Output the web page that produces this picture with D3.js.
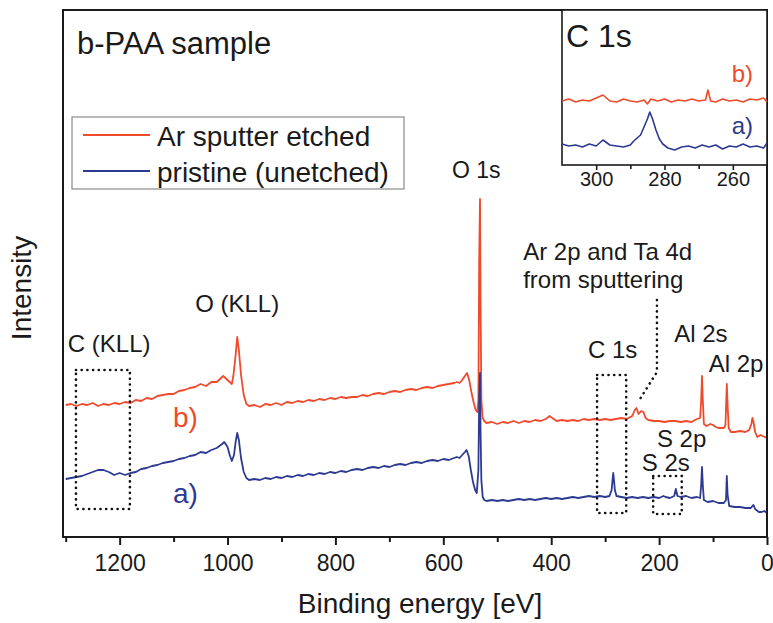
<!DOCTYPE html>
<html>
<head>
<meta charset="utf-8">
<script src="https://cdn.jsdelivr.net/npm/d3@7"></script>
<style>
  body { margin: 0; background: #fff; }
  svg { display: block; font-family: "Liberation Sans", Arial, sans-serif; }
  text { fill: #1a1a1a; }
</style>
</head>
<body>
<div id="chart"></div>
<script>
// ---- data (binding energy in eV, intensity in arbitrary units) ----
const seriesNames = ["Ar sputter etched", "pristine (unetched)"];
const seriesTags = ["b)", "a)"];
const energyTicks = [1200, 1000, 800, 600, 400, 200, 0];
const energyMinor = [1300, 1100, 900, 700, 500, 300, 100];
const insetTicks = [300, 280, 260];
const insetMinor = [290, 270];

// b) Ar sputter etched survey
const etched = [
  [1300,135],[1290,136],[1280,134],[1270,136],[1260,135],[1250,137],[1240,134],[1230,136],
  [1220,135],[1210,137],[1200,136],[1190,138],[1180,137],[1170,140],[1160,139],[1150,142],
  [1140,141],[1130,144],[1120,145],[1110,146],[1100,146],[1090,149],[1080,150],[1070,152],
  [1060,153],[1050,156],[1040,154],[1030,158],[1020,158],[1012,162],[1008,164],[1002,161],
  [996,158],[992,156],[989,165],[985,185],[982,203],[979,190],[975,165],[970,145],[965,136],
  [960,134],[950,135],[940,133],[930,136],[920,135],[910,137],[900,135],[890,138],[880,137],
  [870,139],[860,138],[850,140],[840,139],[830,141],[820,140],[810,142],[800,141],[790,143],
  [780,142],[770,143],[760,143],[750,145],[740,144],[730,146],[720,147],[710,146],[700,148],
  [690,149],[680,148],[670,150],[660,151],[650,150],[640,152],[630,153],[620,152],[610,154],
  [600,155],[590,156],[580,157],[575,158],[570,157],[565,160],[560,164],[556,167],[552,160],
  [548,148],[544,138],[540,130],[537,128],[535,140],[533.5,280],[532,341],[531,240],[529.5,140],
  [527,122],[524,119],[520,117],[510,118],[500,116],[490,118],[480,117],[470,119],[460,117],
  [450,119],[440,118],[430,120],[420,119],[410,121],[403,124],[398,122],[390,119],[380,120],
  [370,119],[360,120],[350,119],[340,121],[330,120],[320,121],[310,120],[300,121],[290,120],
  [280,121],[270,122],[260,121],[250,124],[245,130],[242,132],[238,126],[233,129],[229,128],
  [225,122],[220,120],[210,119],[200,119],[190,118],[180,119],[170,119],[160,118],[150,119],
  [140,118],[130,121],[124,122],[122,140],[120.5,164],[119,140],[117,116],[112,114],[105,116],
  [100,115],[95,113],[90,112],[85,112],[80,112],[77,115],[75.5,140],[74.5,156],[73,135],
  [71,112],[67,108],[60,108],[50,109],[40,108],[33,110],[29,116],[27,122],[25,118],[22,108],
  [18,103],[12,105],[8,104],[4,103],[0,102]
];

// a) pristine (unetched) survey
const pristine = [
  [1300,61],[1290,62],[1280,63],[1270,64],[1260,66],[1250,68],[1240,70],[1230,70],[1220,68],
  [1210,65],[1200,67],[1190,65],[1180,67],[1170,68],[1160,71],[1150,72],[1140,74],[1130,75],
  [1120,77],[1110,78],[1100,79],[1090,81],[1080,82],[1070,84],[1060,85],[1050,88],[1040,87],
  [1030,90],[1020,92],[1010,96],[1006,98],[1000,93],[996,85],[992,79],[988,85],[985,98],
  [982,107],[979,100],[975,82],[970,68],[965,62],[960,60],[950,61],[940,60],[930,62],[920,61],
  [910,63],[900,62],[890,64],[880,63],[870,65],[860,64],[850,66],[840,65],[830,67],[820,66],
  [810,68],[800,67],[790,69],[780,68],[770,70],[760,71],[750,70],[740,72],[730,73],[720,72],
  [710,74],[700,73],[690,75],[680,76],[670,75],[660,77],[650,78],[640,77],[630,79],[620,80],
  [610,79],[600,81],[590,80],[580,82],[575,83],[570,82],[565,85],[560,88],[557,90],[553,84],
  [549,70],[545,58],[541,50],[538,47],[535,70],[533.5,140],[532,167],[531,110],[529.5,60],
  [527,43],[524,40],[520,39],[510,40],[500,39],[490,40],[480,39],[470,40],[460,41],[450,40],
  [440,41],[430,40],[420,41],[410,42],[400,41],[390,42],[380,41],[370,42],[360,43],[350,42],
  [340,43],[330,44],[320,43],[310,44],[300,43],[292,44],[288,50],[286,62],[285,67],[284,62],
  [282,50],[279,44],[270,43],[260,42],[250,43],[240,42],[230,43],[220,42],[210,43],[200,42],
  [192,44],[188,43],[180,42],[172,44],[169,51],[166,44],[160,43],[150,44],[140,42],[130,43],
  [124,42],[122,55],[120.5,73],[119,55],[117,40],[110,38],[100,39],[90,37],[80,37],[76,40],
  [74.5,64],[73,45],[70,34],[60,33],[50,33],[40,32],[30,32],[27,34],[25,35],[22,31],[15,28],
  [10,28],[5,29],[0,27]
];

// C 1s detail (inset)
const insetEtched = [
  [310,64],[308,66],[306,63],[304,65],[302,64],[300,67],[298,70],[296,64],[294,63],[292,66],
  [290,64],[288,63],[286,65],[285,61],[284,66],[282,64],[280,66],[278,63],[276,65],[274,64],
  [272,66],[270,64],[268,65],[267.3,75],[266.5,64],[265,63],[263,66],[261,64],[259,65],
  [257,63],[255,66],[253,65],[251,67],[250,63]
];
const insetPristine = [
  [310,21],[308,19],[306,20],[304,18],[302,21],[300,19],[298,25],[296,20],[294,19],[292,18],
  [290,20],[289,24],[288,27],[287,30],[286,38],[285,46],[284.3,53],[283.5,46],[282.5,35],
  [281.5,26],[280.5,21],[279,17],[277,15],[275,18],[273,19],[271,17],[269,20],[267,18],
  [265,20],[263,16],[261,19],[259,18],[257,21],[255,18],[253,19],[251,17],[250,22]
];

const colors = ["#ef4a2c", "#2d3a92"];

function drawSurvey(rootdom) {
  const width = 773, height = 623;
  const frame = {left: 63, top: 10, right: 767, bottom: 537};

  const svg = d3.select(rootdom).append("svg")
    .attr("width", width)
    .attr("height", height);

  const x = d3.scaleLinear().domain([1305, 0]).range([frame.left, frame.right]);
  const y = d3.scaleLinear().domain([0, 530]).range([540, 10]);

  const line = d3.line()
    .x(d => x(d[0]))
    .y(d => y(d[1]));

  // spectra
  [etched, pristine].forEach((s, i) => {
    svg.append("path")
      .datum(s)
      .attr("fill", "none")
      .attr("stroke", colors[i])
      .attr("stroke-width", 1.8)
      .attr("stroke-linejoin", "round")
      .attr("d", line);
  });

  // dotted boxes marking regions (eV range, intensity range)
  const boxes = [[1281, 1181, 31, 170], [315, 261, 27, 165], [211, 158, 26, 64]];
  svg.selectAll(".dotbox")
    .data(boxes)
    .enter().append("rect")
    .attr("class", "dotbox")
    .attr("x", d => x(d[0]))
    .attr("y", d => y(d[3]))
    .attr("width", d => x(d[1]) - x(d[0]))
    .attr("height", d => y(d[2]) - y(d[3]))
    .attr("fill", "none")
    .attr("stroke", "#111")
    .attr("stroke-width", 2.6)
    .attr("stroke-linecap", "round")
    .attr("stroke-dasharray", "0.1 5.6");

  // pointer to Ar 2p / Ta 4d
  svg.append("path")
    .datum([[204, 240], [204, 168], [239, 138]])
    .attr("fill", "none")
    .attr("stroke", "#111")
    .attr("stroke-width", 2.6)
    .attr("stroke-linecap", "round")
    .attr("stroke-dasharray", "0.1 5.6")
    .attr("d", line);

  // frame
  svg.append("rect")
    .attr("x", frame.left).attr("y", frame.top)
    .attr("width", frame.right - frame.left)
    .attr("height", frame.bottom - frame.top)
    .attr("fill", "none")
    .attr("stroke", "#1a1a1a")
    .attr("stroke-width", 2);

  // x axis
  const xAxis = d3.axisBottom(x).tickValues(energyTicks).tickSize(8).tickPadding(10)
    .tickFormat(d3.format("d"));
  const gx = svg.append("g")
    .attr("transform", "translate(0," + frame.bottom + ")")
    .call(xAxis);
  gx.select(".domain").remove();
  gx.selectAll("line").attr("stroke", "#1a1a1a").attr("stroke-width", 2);
  gx.selectAll("text").attr("font-size", 23).attr("fill", "#1a1a1a")
    .attr("font-family", "Liberation Sans, Arial, sans-serif");

  const gxm = svg.append("g")
    .attr("transform", "translate(0," + frame.bottom + ")")
    .call(d3.axisBottom(x).tickValues(energyMinor).tickSize(5).tickFormat(""));
  gxm.select(".domain").remove();
  gxm.selectAll("line").attr("stroke", "#1a1a1a").attr("stroke-width", 2);

  svg.append("text")
    .attr("x", 420).attr("y", 613)
    .attr("text-anchor", "middle")
    .attr("font-size", 28)
    .text("Binding energy [eV]");

  svg.append("text")
    .attr("transform", "translate(31," + 288 + ") rotate(-90)")
    .attr("text-anchor", "middle")
    .attr("font-size", 28)
    .text("Intensity");

  svg.append("text")
    .attr("x", 77).attr("y", 54)
    .attr("font-size", 31)
    .text("b-PAA sample");

  // peak labels
  const labels = [
    ["O 1s", 584, 362, 23], ["O (KLL)", 1060, 228, 24], ["C (KLL)", 1296, 188, 24],
    ["C 1s", 332, 182, 24], ["Ar 2p and Ta 4d", 452, 280, 24], ["from sputtering", 452, 252, 24],
    ["Al 2s", 172, 198, 24], ["Al 2p", 108, 168, 24], ["S 2p", 204, 93, 24], ["S 2s", 232, 69, 24]
  ];
  svg.selectAll(".peak")
    .data(labels)
    .enter().append("text")
    .attr("class", "peak")
    .attr("x", d => x(d[1]))
    .attr("y", d => y(d[2]))
    .attr("font-size", d => d[3])
    .text(d => d[0]);

  // series tags
  [[1101, 113], [1101, 37]].forEach((p, i) => {
    svg.append("text")
      .attr("x", x(p[0])).attr("y", y(p[1]))
      .attr("font-size", 28)
      .style("fill", colors[i])
      .text(seriesTags[i]);
  });

  // legend
  const legend = svg.append("g").attr("transform", "translate(72,117)");
  legend.append("rect")
    .attr("width", 332).attr("height", 72)
    .attr("fill", "#fff")
    .attr("stroke", "#8a8a8a")
    .attr("stroke-width", 1.2);
  seriesNames.forEach((name, i) => {
    const g = legend.append("g").attr("transform", "translate(0," + (18 + i * 36) + ")");
    g.append("line")
      .attr("x1", 11).attr("x2", 78)
      .attr("stroke", colors[i])
      .attr("stroke-width", 2);
    g.append("text")
      .attr("x", 85).attr("y", 11)
      .attr("font-size", 28)
      .text(name);
  });

  // ---- inset: C 1s ----
  const inset = {left: 562, top: 10, right: 767, bottom: 165};
  const ix = d3.scaleLinear().domain([310, 250]).range([inset.left, inset.right]);
  const iy = d3.scaleLinear().domain([0, 155]).range([inset.bottom, inset.top]);

  svg.append("rect")
    .attr("x", inset.left).attr("y", inset.top)
    .attr("width", inset.right - inset.left)
    .attr("height", inset.bottom - inset.top)
    .attr("fill", "#fff")
    .attr("stroke", "#1a1a1a")
    .attr("stroke-width", 1.6);

  const iline = d3.line()
    .x(d => ix(d[0]))
    .y(d => iy(d[1]));

  [insetEtched, insetPristine].forEach((s, i) => {
    svg.append("path")
      .datum(s)
      .attr("fill", "none")
      .attr("stroke", colors[i])
      .attr("stroke-width", 1.6)
      .attr("stroke-linejoin", "round")
      .attr("d", iline);
  });

  const gi = svg.append("g")
    .attr("transform", "translate(0," + inset.bottom + ")")
    .call(d3.axisBottom(ix).tickValues(insetTicks).tickSize(5).tickPadding(2));
  gi.select(".domain").remove();
  gi.selectAll("line").attr("stroke", "#1a1a1a").attr("stroke-width", 1.6);
  gi.selectAll("text").attr("font-size", 20).attr("fill", "#1a1a1a")
    .attr("font-family", "Liberation Sans, Arial, sans-serif");
  const gim = svg.append("g")
    .attr("transform", "translate(0," + inset.bottom + ")")
    .call(d3.axisBottom(ix).tickValues(insetMinor).tickSize(4).tickFormat(""));
  gim.select(".domain").remove();
  gim.selectAll("line").attr("stroke", "#1a1a1a").attr("stroke-width", 1.6);

  svg.append("text")
    .attr("x", 566).attr("y", 47)
    .attr("font-size", 32)
    .text("C 1s");

  [[82], [134]].forEach((p, i) => {
    svg.append("text")
      .attr("x", 753).attr("y", p[0])
      .attr("text-anchor", "end")
      .attr("font-size", 24)
      .style("fill", colors[i])
      .text(seriesTags[i]);
  });
}

drawSurvey("#chart");
</script>
</body>
</html>
